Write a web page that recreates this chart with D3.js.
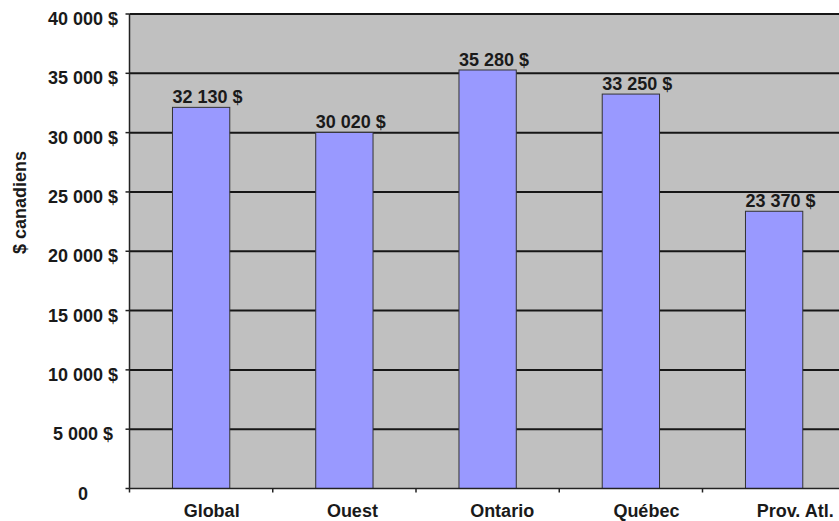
<!DOCTYPE html>
<html>
<head>
<meta charset="utf-8">
<script src="https://cdn.jsdelivr.net/npm/d3@7"></script>
<style>
  html, body { margin: 0; padding: 0; background: #fff; }
  svg { display: block; }
  text { font-family: "Liberation Sans", Arial, sans-serif; font-weight: bold; fill: #1a1a1a; }
</style>
</head>
<body>
<svg id="chart" width="839" height="521"></svg>
<script>
// Regional averages, in Canadian dollars
const categories = ["Global", "Ouest", "Ontario", "Québec", "Prov. Atl."];
const values = [32130, 30020, 35280, 33250, 23370];
const yTicks = [0, 5000, 10000, 15000, 20000, 25000, 30000, 35000, 40000];
const yTitle = "$ canadiens";

const fmt = v => v === 0 ? "0" : d3.format(",")(v).replace(/,/g, " ") + " $";

const svg = d3.select("#chart");
const plot = { left: 129.5, right: 845.75, top: 14, bottom: 488.5 };

const x = d3.scaleBand()
  .domain(categories)
  .range([plot.left, plot.right])
  .paddingInner(0.6)
  .paddingOuter(0.3);

const band = d3.scaleBand().domain(categories).range([plot.left, plot.right]);

const y = d3.scaleLinear().domain([0, 40000]).range([plot.bottom, plot.top]);

// plot area background
svg.append("rect")
  .attr("x", plot.left).attr("y", plot.top)
  .attr("width", plot.right - plot.left).attr("height", plot.bottom - plot.top)
  .attr("fill", "#c0c0c0");

// horizontal gridlines
svg.append("g").selectAll("line")
  .data(yTicks.filter(t => t > 0))
  .join("line")
  .attr("x1", plot.left).attr("x2", plot.right)
  .attr("y1", d => y(d)).attr("y2", d => y(d))
  .attr("stroke", "#161616").attr("stroke-width", 2);

// bars
svg.append("g").selectAll("rect")
  .data(values)
  .join("rect")
  .attr("x", (d, i) => x(categories[i]))
  .attr("y", d => y(d))
  .attr("width", x.bandwidth())
  .attr("height", d => plot.bottom - y(d))
  .attr("fill", "#9999ff")
  .attr("stroke", "#333")
  .attr("stroke-width", 1);

// value labels above the bars
svg.append("g").selectAll("text")
  .data(values)
  .join("text")
  .attr("x", (d, i) => x(categories[i]))
  .attr("y", d => y(d) - 4)
  .attr("font-size", 18)
  .text(d => fmt(d));

// left axis line and ticks
svg.append("line")
  .attr("x1", plot.left).attr("x2", plot.left)
  .attr("y1", plot.top).attr("y2", plot.bottom)
  .attr("stroke", "#222").attr("stroke-width", 1.5);
svg.append("g").selectAll("line")
  .data(yTicks)
  .join("line")
  .attr("x1", plot.left - 4).attr("x2", plot.left)
  .attr("y1", d => y(d)).attr("y2", d => y(d))
  .attr("stroke", "#222").attr("stroke-width", 1.5);
svg.append("g").selectAll("text")
  .data(yTicks)
  .join("text")
  .attr("x", 83)
  .attr("y", d => y(d) + 11)
  .attr("text-anchor", "middle")
  .attr("font-size", 18)
  .text(d => fmt(d));

// bottom axis line, ticks at category boundaries, labels
svg.append("line")
  .attr("x1", plot.left).attr("x2", plot.right)
  .attr("y1", plot.bottom).attr("y2", plot.bottom)
  .attr("stroke", "#222").attr("stroke-width", 1.5);
svg.append("g").selectAll("line")
  .data(categories)
  .join("line")
  .attr("x1", d => band(d)).attr("x2", d => band(d))
  .attr("y1", plot.bottom).attr("y2", plot.bottom + 4)
  .attr("stroke", "#222").attr("stroke-width", 1.5);
svg.append("g").selectAll("text")
  .data(categories)
  .join("text")
  .attr("x", d => band(d) + band.bandwidth() / 2 - 17.5)
  .attr("y", 517)
  .attr("font-size", 18)
  .text(d => d);

// y-axis title
svg.append("text")
  .attr("transform", "translate(25.5,202.5) rotate(-90)")
  .attr("text-anchor", "middle")
  .attr("font-size", 18)
  .text(yTitle);
</script>
</body>
</html>
